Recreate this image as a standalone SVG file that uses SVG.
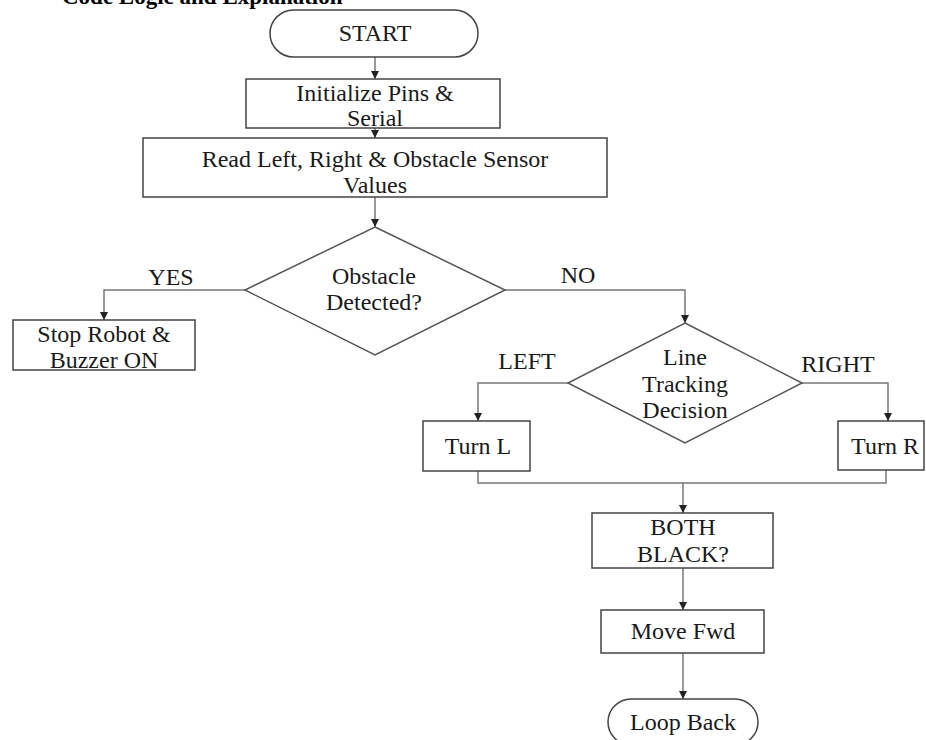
<svg xmlns="http://www.w3.org/2000/svg" width="926" height="740" viewBox="0 0 926 740">
<defs>
<marker id="ah" markerUnits="userSpaceOnUse" markerWidth="10" markerHeight="10" refX="8" refY="4" orient="auto">
<path d="M0,0 L8,4 L0,8 Z" fill="#222"/>
</marker>
<style>
.box{fill:#fff;stroke:#444;stroke-width:1.5}
.dia{fill:#fff;stroke:#555;stroke-width:1.5}
.t{font-family:"Liberation Serif","Times New Roman",serif;font-size:24px;fill:#1a1a1a;text-anchor:middle}
.title{font-family:"Liberation Serif","Times New Roman",serif;font-size:23px;font-weight:bold;fill:#000}
.c{fill:none;stroke:#777;stroke-width:1.5}
.ca{fill:none;stroke:#777;stroke-width:1.5;marker-end:url(#ah)}
</style>
</defs>
<rect width="926" height="740" fill="#fff"/>
<text class="title" x="62" y="4">Code Logic and Explanation</text>

<g id="connectors">
<path class="ca" d="M375,57 V79"/>
<path class="ca" d="M375,128 V138"/>
<path class="ca" d="M375,197 V227"/>
<path class="ca" d="M245,290 H104 V320"/>
<path class="ca" d="M505,290 H685 V323"/>
<path class="ca" d="M568,383 H478 V421"/>
<path class="ca" d="M802,383 H888 V421"/>
<path class="c" d="M478,471 V483 H886 V470"/>
<path class="ca" d="M683,483 V513"/>
<path class="ca" d="M683,568 V610"/>
<path class="ca" d="M683,653 V699"/>
<text class="t" x="171" y="285">YES</text>
<text class="t" x="578" y="283">NO</text>
<text class="t" x="527" y="369">LEFT</text>
<text class="t" x="838" y="372">RIGHT</text>
</g>

<g id="start">
<rect class="box" x="270" y="10" width="208" height="47" rx="23.5"/>
<text class="t" x="375" y="41">START</text>
</g>
<g id="init">
<rect class="box" x="246" y="79" width="254" height="49"/>
<text class="t" x="375" y="101">Initialize Pins &amp;</text>
<text class="t" x="375" y="126">Serial</text>
</g>
<g id="read">
<rect class="box" x="143" y="138" width="464" height="59"/>
<text class="t" x="375" y="167">Read Left, Right &amp; Obstacle Sensor</text>
<text class="t" x="375" y="193">Values</text>
</g>
<g id="obstacle">
<polygon class="dia" points="375,227 505,290 375,355 245,290"/>
<text class="t" x="374" y="284">Obstacle</text>
<text class="t" x="374" y="310">Detected?</text>
</g>
<g id="stop">
<rect class="box" x="13" y="320" width="182" height="50"/>
<text class="t" x="104" y="342">Stop Robot &amp;</text>
<text class="t" x="104" y="368">Buzzer ON</text>
</g>
<g id="linetrack">
<polygon class="dia" points="685,323 802,383 685,443 568,383"/>
<text class="t" x="685" y="365">Line</text>
<text class="t" x="685" y="392">Tracking</text>
<text class="t" x="685" y="418">Decision</text>
</g>
<g id="turnl">
<rect class="box" x="423" y="421" width="107" height="50"/>
<text class="t" x="478" y="454">Turn L</text>
</g>
<g id="turnr">
<rect class="box" x="838" y="421" width="86" height="49"/>
<text class="t" x="885" y="454">Turn R</text>
</g>
<g id="both">
<rect class="box" x="592" y="513" width="181" height="55"/>
<text class="t" x="683" y="535">BOTH</text>
<text class="t" x="683" y="562">BLACK?</text>
</g>
<g id="move">
<rect class="box" x="601" y="610" width="163" height="43"/>
<text class="t" x="683" y="639">Move Fwd</text>
</g>
<g id="loop">
<rect class="box" x="608" y="699" width="150" height="46" rx="23"/>
<text class="t" x="683" y="730">Loop Back</text>
</g>
</svg>
